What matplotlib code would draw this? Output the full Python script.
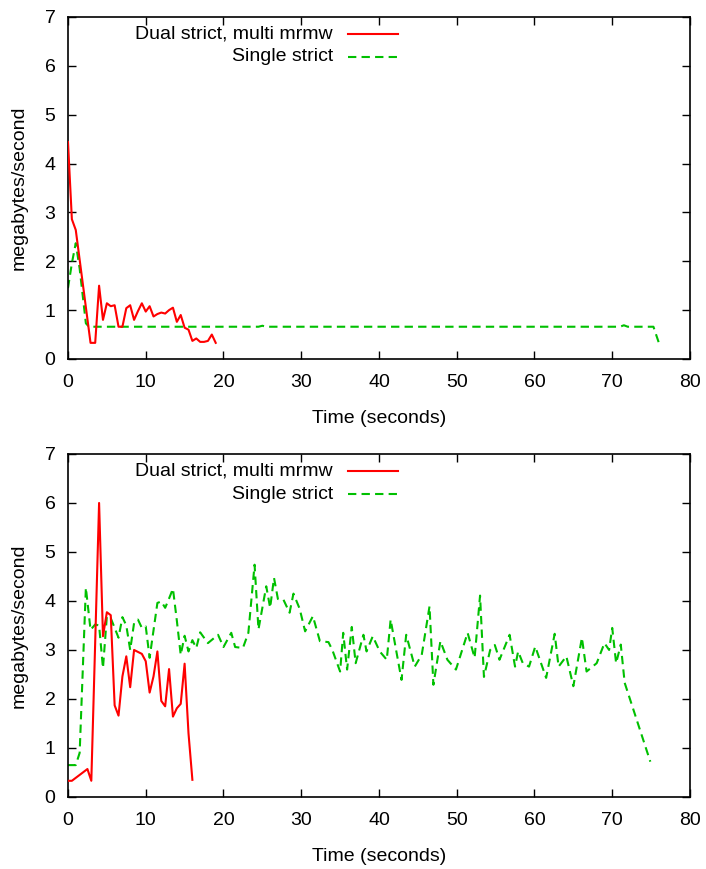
import matplotlib
matplotlib.use("Agg")
import matplotlib.pyplot as plt

plt.rcParams['font.family'] = ['Liberation Sans', 'DejaVu Sans']
plt.rcParams['font.size'] = 14

series_names = ["Dual strict, multi mrmw", "Single strict"]

# top panel
top_dual_t = [0, 0.5, 1, 2.9, 3.5, 4, 4.5, 5, 5.5, 6, 6.5, 7, 7.5, 8, 8.5, 9, 9.5, 10,
              10.5, 11, 11.5, 12, 12.5, 13, 13.5, 14, 14.5, 15, 15.5, 16, 16.5, 17,
              17.5, 18, 18.5, 19]
top_dual_v = [4.44, 2.86, 2.64, 0.33, 0.33, 1.5, 0.8, 1.14, 1.08, 1.1, 0.66, 0.66, 1.04,
              1.1, 0.8, 0.98, 1.14, 0.97, 1.08, 0.87, 0.92, 0.95, 0.93, 1.0, 1.05, 0.76,
              0.9, 0.64, 0.6, 0.37, 0.42, 0.35, 0.35, 0.37, 0.5, 0.33]
top_single_t = [0, 0.5, 1, 1.5, 2.3, 2.7, 24.5, 25, 25.5, 71, 71.5, 72, 75.3, 76]
top_single_v = [1.45, 1.96, 2.37, 1.85, 0.73, 0.66, 0.66, 0.68, 0.66, 0.66, 0.69, 0.66,
                0.66, 0.33]

# bottom panel
bot_dual_t = [0, 0.5, 2.5, 3, 4, 4.5, 5, 5.5, 6, 6.5, 7, 7.5, 8, 8.5, 9, 9.5, 10, 10.5,
              11, 11.5, 12, 12.5, 13, 13.5, 14, 14.5, 15, 15.5, 16]
bot_dual_v = [0.33, 0.33, 0.57, 0.33, 6.0, 3.28, 3.77, 3.71, 1.87, 1.66, 2.46, 2.87,
              2.24, 3.0, 2.96, 2.92, 2.77, 2.13, 2.46, 2.97, 1.96, 1.85, 2.61, 1.64,
              1.81, 1.9, 2.72, 1.3, 0.35]
bot_single_t = [0, 1, 1.5, 2.3, 2.9, 3.5, 4.0, 4.5, 5, 5.5, 6, 6.5, 7, 7.5, 8, 8.5, 9,
                9.5, 10, 10.5, 11, 11.5, 12, 12.5, 13, 13.5, 14, 14.5, 15, 15.5, 16,
                16.5, 17, 18, 19.3, 20, 21, 21.5, 22.5, 23.2, 24, 24.5, 25.5, 26, 26.5,
                27, 27.7, 28.5, 29, 29.8, 30.5, 31.5, 32.4, 33.5, 34, 35, 35.4, 35.9,
                36.5, 37, 38, 38.4, 39.2, 40.1, 41, 41.5, 42.2, 42.9, 43.5, 44.6, 45.5,
                46.5, 47, 47.9, 48.8, 49.9, 51.4, 52.3, 53, 53.5, 54.3, 54.9, 55.5,
                56.8, 57.5, 57.9, 58.5, 59.3, 60.1, 61.5, 62.6, 63.1, 64.1, 65, 66.1,
                66.7, 68, 69, 69.6, 70, 70.5, 71.1, 71.6, 74.9]
bot_single_v = [0.65, 0.65, 0.9, 4.27, 3.41, 3.52, 3.5, 2.63, 3.69, 3.65, 3.45, 3.25,
                3.67, 3.5, 3.0, 3.55, 3.62, 3.45, 3.48, 2.84, 3.4, 3.96, 3.99, 3.86,
                4.05, 4.25, 3.6, 2.9, 3.29, 2.97, 3.2, 3.04, 3.36, 3.14, 3.31, 3.06,
                3.35, 3.06, 3.04, 3.35, 4.74, 3.42, 4.3, 3.86, 4.47, 4.04, 4.03, 3.76,
                4.15, 3.84, 3.38, 3.69, 3.18, 3.16, 3.0, 2.56, 3.35, 2.6, 3.47, 2.73,
                3.31, 2.97, 3.28, 2.97, 2.8, 3.62, 3.0, 2.39, 3.31, 2.66, 2.9, 3.89,
                2.29, 3.18, 2.8, 2.6, 3.35, 2.84, 4.11, 2.45, 3.0, 3.1, 2.8, 3.31, 2.66,
                2.97, 2.73, 2.66, 3.07, 2.43, 3.33, 2.66, 2.87, 2.26, 3.25, 2.56, 2.73,
                3.14, 3.0, 3.45, 2.73, 3.11, 2.33, 0.72]

red = '#ff0000'
green = '#00c000'

fig = plt.figure(figsize=(7.06, 8.69), dpi=100)
ax_top = fig.add_axes([0.0963, 0.5869, 0.881, 0.3936])
ax_bot = fig.add_axes([0.0963, 0.0829, 0.881, 0.3947])

panels = [
    (ax_top, top_dual_t, top_dual_v, top_single_t, top_single_v),
    (ax_bot, bot_dual_t, bot_dual_v, bot_single_t, bot_single_v),
]

for ax, dt, dv, st, sv in panels:
    ax.plot(dt, dv, color=red, lw=1.5, zorder=3)
    ax.plot(st, sv, color=green, lw=1.5, dashes=(4, 2.5), zorder=2)
    ax.set_xlim(0, 80)
    ax.set_ylim(0, 7)
    ax.set_xticks(range(0, 81, 10))
    ax.set_yticks(range(0, 8))
    ax.tick_params(direction='in', length=6, width=1, top=True, right=True, pad=9)
    ax.tick_params(axis='x', pad=11)
    for sp in ax.spines.values():
        sp.set_linewidth(1.2)
    ax.set_xlabel("Time (seconds)")
    ax.set_ylabel("megabytes/second")
    ax.xaxis.set_label_coords(0.5, -0.149)
    ax.yaxis.set_label_coords(-0.064, 0.5)

    # gnuplot-style key: right-aligned text with sample to the right
    for i, (name, col, ls) in enumerate([(series_names[0], red, None),
                                         (series_names[1], green, (4, 2.5))]):
        y = 0.950 - i * 0.067
        ax.text(0.426, y, name, transform=ax.transAxes, ha='right', va='center')
        kw = dict(color=col, lw=1.5, transform=ax.transAxes, clip_on=False)
        if ls:
            kw['dashes'] = ls
        ax.plot([0.450, 0.531], [y, y], **kw)

fig.savefig("out.png", dpi=100)
